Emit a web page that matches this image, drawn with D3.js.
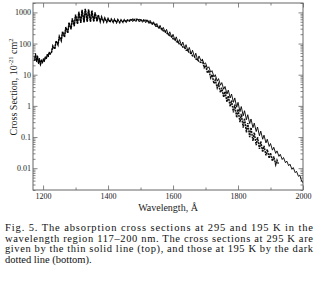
<!DOCTYPE html>
<html>
<head>
<meta charset="utf-8">
<script src="https://cdn.jsdelivr.net/npm/d3@7"></script>
<style>
  body { margin: 0; background: #fff; }
  text { font-family: "Liberation Serif", "Times New Roman", serif; }
</style>
</head>
<body>
<svg id="chart" width="325" height="288"></svg>
<script>
// [wavelength in Å, cross section in 1e-21 cm^2]
const t295 = [
  [1174, 32], [1177, 48], [1180, 26], [1183, 40], [1186, 22], [1189, 34], [1192, 20],
  [1195, 30], [1198, 24], [1201, 33], [1204, 27], [1207, 38], [1210, 33], [1213, 46],
  [1216, 38], [1219, 54], [1222, 45],
  [1226, 55], [1230, 80], [1236, 70], [1240, 115], [1246, 95], [1250, 160],
  [1256, 130], [1260, 230], [1266, 170], [1270, 320], [1276, 230], [1280, 450],
  [1286, 300], [1290, 600], [1296, 380], [1300, 800], [1306, 440], [1310, 1000],
  [1316, 480], [1320, 1150], [1326, 500], [1330, 1250], [1336, 520], [1340, 1200],
  [1346, 520], [1350, 1100], [1356, 530], [1360, 950], [1366, 530], [1370, 800],
  [1376, 520], [1380, 700], [1386, 510], [1390, 650], [1396, 500], [1400, 620],
  [1406, 490], [1410, 600], [1416, 490], [1420, 590], [1426, 480], [1430, 580],
  [1436, 480], [1440, 570], [1446, 490], [1450, 570], [1456, 500], [1460, 575],
  [1466, 495], [1470, 615], [1476, 505], [1480, 625], [1486, 505], [1490, 625],
  [1496, 495], [1500, 610], [1506, 480], [1510, 600], [1516, 465], [1520, 580],
  [1526, 440], [1530, 550], [1536, 400], [1540, 500], [1546, 350], [1550, 440],
  [1556, 305], [1560, 385], [1566, 265], [1570, 330], [1576, 225], [1580, 285],
  [1586, 185], [1590, 238], [1596, 155], [1600, 198], [1606, 126], [1610, 164],
  [1616, 104], [1620, 134], [1626, 86], [1630, 112], [1636, 71], [1640, 92],
  [1646, 57], [1650, 75], [1656, 46], [1660, 61], [1666, 37], [1670, 49],
  [1676, 29], [1680, 40], [1686, 28], [1690, 31], [1696, 22], [1700, 24],
  [1706, 16], [1710, 18], [1716, 12], [1720, 13.5], [1726, 8.5], [1730, 10],
  [1736, 6.2], [1740, 7.5], [1746, 4.6], [1750, 5.6], [1756, 3.4], [1760, 4.2],
  [1766, 2.4], [1770, 3.2], [1776, 1.8], [1780, 2.4], [1786, 1.3], [1790, 1.8],
  [1796, 0.9], [1800, 1.3], [1806, 0.65], [1810, 0.95], [1816, 0.48], [1820, 0.7],
  [1826, 0.36], [1830, 0.52], [1836, 0.27], [1840, 0.38], [1846, 0.2], [1850, 0.28],
  [1856, 0.15], [1860, 0.21], [1866, 0.11], [1870, 0.155], [1876, 0.085], [1880, 0.115],
  [1886, 0.065], [1890, 0.085], [1896, 0.05], [1900, 0.062], [1906, 0.038], [1910, 0.047],
  [1916, 0.03], [1920, 0.036], [1926, 0.024], [1930, 0.028], [1936, 0.019], [1940, 0.022],
  [1946, 0.015], [1950, 0.017], [1956, 0.012], [1960, 0.0135], [1966, 0.0092], [1970, 0.0105],
  [1976, 0.0072], [1980, 0.008], [1986, 0.0055], [1990, 0.006], [1996, 0.0038], [2000, 0.0035]
];

const t195 = [
  [1174, 28], [1177, 42], [1180, 30], [1183, 36], [1186, 24], [1189, 30], [1192, 22],
  [1195, 28], [1198, 25], [1201, 30], [1204, 28], [1207, 35], [1210, 34], [1213, 42],
  [1216, 40], [1219, 52], [1222, 47],
  [1226, 52], [1230, 84], [1236, 66], [1240, 122], [1246, 90], [1250, 170],
  [1256, 122], [1260, 245], [1266, 160], [1270, 340], [1276, 215], [1280, 480],
  [1286, 285], [1290, 640], [1296, 360], [1300, 850], [1306, 420], [1310, 1050],
  [1316, 460], [1320, 1200], [1326, 480], [1330, 1300], [1336, 500], [1340, 1250],
  [1346, 500], [1350, 1150], [1356, 510], [1360, 1000], [1366, 515], [1370, 830],
  [1376, 505], [1380, 720], [1386, 500], [1390, 660], [1396, 490], [1400, 630],
  [1406, 480], [1410, 610], [1416, 480], [1420, 595], [1426, 470], [1430, 585],
  [1436, 470], [1440, 575], [1446, 480], [1450, 575], [1456, 490], [1460, 580],
  [1466, 560], [1470, 540], [1476, 600], [1480, 560], [1486, 610], [1490, 555],
  [1496, 590], [1500, 545], [1506, 580], [1510, 530], [1516, 555], [1520, 505],
  [1526, 520], [1530, 465], [1536, 470], [1540, 415], [1546, 410], [1550, 360],
  [1556, 350], [1560, 300], [1566, 300], [1570, 255], [1576, 250], [1580, 212],
  [1586, 205], [1590, 172], [1596, 168], [1600, 142], [1606, 138], [1610, 116],
  [1616, 112], [1620, 94], [1626, 91], [1630, 77], [1636, 74], [1640, 62],
  [1646, 60], [1650, 50], [1656, 48], [1660, 40], [1666, 38], [1670, 32],
  [1676, 30], [1680, 26], [1686, 25], [1690, 29], [1696, 17], [1700, 20],
  [1706, 11.5], [1710, 14], [1716, 8], [1720, 10], [1726, 5.2], [1730, 6.8],
  [1736, 3.8], [1740, 5], [1746, 2.7], [1750, 3.8], [1756, 1.9], [1760, 2.9],
  [1766, 1.35], [1770, 2.1], [1776, 0.95], [1780, 1.5], [1786, 0.62], [1790, 1.1],
  [1796, 0.42], [1800, 0.78], [1806, 0.3], [1810, 0.55], [1816, 0.2], [1820, 0.4],
  [1826, 0.14], [1830, 0.28], [1836, 0.1], [1840, 0.2], [1846, 0.075], [1850, 0.14],
  [1856, 0.055], [1860, 0.1], [1866, 0.042], [1870, 0.072], [1876, 0.033], [1880, 0.052],
  [1886, 0.026], [1890, 0.04], [1896, 0.021], [1900, 0.031], [1906, 0.017], [1910, 0.024],
  [1916, 0.013], [1920, 0.018], [1924, 0.014]
];

const xMajor = [1200, 1400, 1600, 1800, 2000];
const xMinor = [1300, 1500, 1700, 1900];
const yMajor = [0.01, 0.1, 1, 10, 100, 1000];
const yLabels = ["0.01", "0.1", "1", "10", "100", "1000"];

const caption = [
  "Fig. 5. The absorption cross sections at 295 and 195 K in the",
  "wavelength region 117\u2013200 nm. The cross sections at 295 K are",
  "given by the thin solid line (top), and those at 195 K by the dark",
  "dotted line (bottom)."
];

const svg = d3.select("#chart");
const plot = { left: 33, right: 303, top: 3, bottom: 190 };

const x = d3.scaleLinear().domain([1169, 2000]).range([plot.left, plot.right]);
const y = d3.scaleLog().domain([0.002, 2000]).range([plot.bottom, plot.top]);

// minor log ticks 2..9 per decade inside the domain
const yMinor = [];
[0.001, 0.01, 0.1, 1, 10, 100, 1000].forEach((d) => {
  for (let k = 2; k <= 9; k++) {
    const v = d * k;
    if (v >= 0.002 && v <= 2000) yMinor.push(v);
  }
});

const axisColor = "#666";

function styleAxis(g) {
  g.select(".domain").remove();
  g.selectAll(".tick line").attr("stroke", axisColor).attr("stroke-width", 0.8);
  g.selectAll(".tick text")
    .attr("fill", "#222")
    .style("font-size", "8px")
    .style("font-family", "'Liberation Serif', serif");
}

// bottom
svg.append("g").attr("transform", `translate(0,${plot.bottom})`)
  .call(d3.axisBottom(x).tickValues(xMajor).tickSize(-4.5).tickPadding(3).tickFormat(d3.format("d")))
  .call(styleAxis);
svg.append("g").attr("transform", `translate(0,${plot.bottom})`)
  .call(d3.axisBottom(x).tickValues(xMinor).tickSize(-2.5).tickFormat(""))
  .call(styleAxis);
// top
svg.append("g").attr("transform", `translate(0,${plot.top})`)
  .call(d3.axisTop(x).tickValues(xMajor).tickSize(-4.5).tickFormat(""))
  .call(styleAxis);
svg.append("g").attr("transform", `translate(0,${plot.top})`)
  .call(d3.axisTop(x).tickValues(xMinor).tickSize(-2.5).tickFormat(""))
  .call(styleAxis);
// left
svg.append("g").attr("transform", `translate(${plot.left},0)`)
  .call(d3.axisLeft(y).tickValues(yMajor).tickSize(-4.5).tickPadding(2)
    .tickFormat((d, i) => yLabels[i]))
  .call(styleAxis);
svg.append("g").attr("transform", `translate(${plot.left},0)`)
  .call(d3.axisLeft(y).tickValues(yMinor).tickSize(-2.5).tickFormat(""))
  .call(styleAxis);
// right
svg.append("g").attr("transform", `translate(${plot.right},0)`)
  .call(d3.axisRight(y).tickValues(yMajor).tickSize(-4.5).tickFormat(""))
  .call(styleAxis);
svg.append("g").attr("transform", `translate(${plot.right},0)`)
  .call(d3.axisRight(y).tickValues(yMinor).tickSize(-2.5).tickFormat(""))
  .call(styleAxis);

svg.append("rect")
  .attr("x", plot.left).attr("y", plot.top)
  .attr("width", plot.right - plot.left).attr("height", plot.bottom - plot.top)
  .attr("fill", "none").attr("stroke", axisColor).attr("stroke-width", 1);

const line = d3.line().x((d) => x(d[0])).y((d) => y(d[1]));

svg.append("path").datum(t195)
  .attr("d", line)
  .attr("fill", "none")
  .attr("stroke", "#111")
  .attr("stroke-width", 1.5)
  .attr("stroke-dasharray", "2,0.8");

svg.append("path").datum(t295)
  .attr("d", line)
  .attr("fill", "none")
  .attr("stroke", "#000")
  .attr("stroke-width", 0.9);

// axis titles
const yTitle = svg.append("text")
  .attr("transform", "translate(17,87) rotate(-90)")
  .attr("text-anchor", "middle")
  .attr("fill", "#222")
  .style("font-size", "10px");
yTitle.append("tspan").text("Cross Section, 10");
yTitle.append("tspan").attr("dy", -4).style("font-size", "6.5px").text("-21");
yTitle.append("tspan").attr("dy", 4).text(" cm");
yTitle.append("tspan").attr("dy", -4).style("font-size", "6.5px").text("2");

svg.append("text")
  .attr("x", 168).attr("y", 211)
  .attr("text-anchor", "middle")
  .attr("fill", "#222")
  .style("font-size", "10px")
  .text("Wavelength,  \u00c5");

// caption
svg.append("g").selectAll("text")
  .data(caption)
  .join("text")
  .attr("x", 5)
  .attr("y", (d, i) => 231 + i * 10.6)
  .attr("fill", "#111")
  .style("font-size", "10.5px")
  .each(function (d, i) {
    if (i < caption.length - 1) {
      d3.select(this).attr("textLength", 308).attr("lengthAdjust", "spacing");
    }
  })
  .text((d) => d);
</script>
</body>
</html>
